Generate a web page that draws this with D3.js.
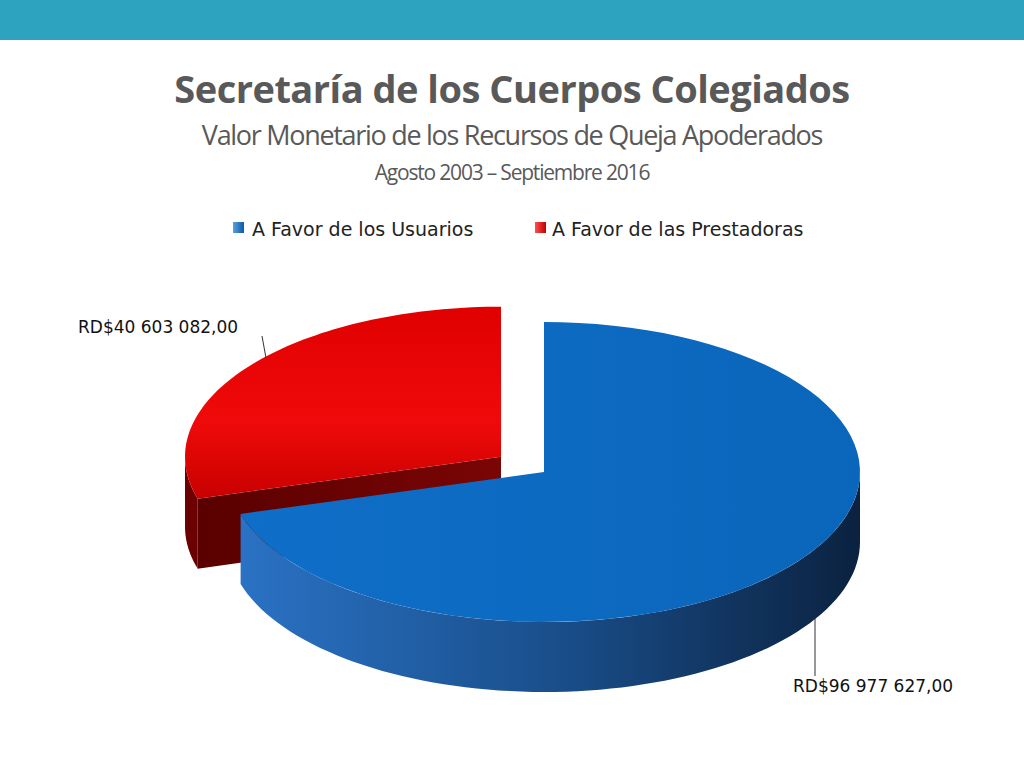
<!DOCTYPE html><html><head><meta charset="utf-8"><script src="https://d3js.org/d3.v7.min.js"></script>
<style>body{margin:0;background:#fff}</style></head><body><svg id="c" width="1024" height="768"></svg>
<script>
const categories=["A Favor de los Usuarios","A Favor de las Prestadoras"];
const values=[96977627,40603082];
const labels=["RD$96 977 627,00","RD$40 603 082,00"];
const svg=d3.select("#c");
svg.append("rect").attr("width",1024).attr("height",40).attr("fill","#2ea3c0");
const t=(txt,y,s,w,ls)=>svg.append("text").attr("x",512).attr("y",y).attr("text-anchor","middle").attr("font-family","Open Sans, sans-serif").attr("font-size",s).attr("font-weight",w).attr("letter-spacing",ls).attr("fill","#595959").text(txt);
t("Secretaría de los Cuerpos Colegiados",103,38,"bold",-0.5);
t("Valor Monetario de los Recursos de Queja Apoderados",145,27,"normal",-1.3);
t("Agosto 2003 – Septiembre 2016",180,21,"normal",-1.2);
const defs=svg.append("defs");
function grad(id,stops,x2=1,y2=0){const g=defs.append("linearGradient").attr("id",id).attr("x1",0).attr("y1",0).attr("x2",x2).attr("y2",y2);stops.forEach(([o,c])=>g.append("stop").attr("offset",o).attr("stop-color",c));}
grad("bw",[[0,"#2a72c4"],[0.5,"#1a4f8c"],[1,"#0b2240"]]);
grad("bt",[[0,"#0f6ec8"],[1,"#0a66ba"]]);
grad("rt",[[0,"#e00000"],[0.6,"#f00a0a"],[1,"#c80000"]],0,1);
grad("rf",[[0,"#5a0000"],[1,"#7a0505"]]);
grad("lb",[[0,"#5aa0e0"],[1,"#0a5aa8"]]);grad("lr",[[0,"#ff5050"],[1,"#c00000"]]);
// legend
const lg=[[233,252,"url(#lb)"],[535,552,"url(#lr)"]];
categories.forEach((c,i)=>{svg.append("rect").attr("x",lg[i][0]).attr("y",222).attr("width",11).attr("height",11).attr("fill",lg[i][2]);
svg.append("text").attr("x",lg[i][1]).attr("y",236).attr("font-family","DejaVu Sans").attr("font-size",19).attr("fill","#222").text(c);});
const pie=d3.pie().sort(null).value(d=>d)(values);
const cx=544,cy=472,rx=316,ry=150,dep=70;
const P=(a,ox,oy,dy=0)=>[ox+rx*Math.sin(a),oy-ry*Math.cos(a)+dy];
const line=d3.line();
function arcPts(a1,a2,ox,oy,dy){const n=80,p=[];for(let i=0;i<=n;i++)p.push(P(a1+(a2-a1)*i/n,ox,oy,dy));return p;}
function slice(d,ox,oy,top,wall,face,faceAngle){
 const g=svg.append("g");
 // radial face
 if(faceAngle!=null){const e=P(faceAngle,ox,oy);g.append("path").attr("d",line([[ox,oy],e,[e[0],e[1]+dep],[ox,oy+dep]])+"Z").attr("fill",face);}
 // outer wall (front half: 90..270 deg)
 const lo=Math.max(d.startAngle,Math.PI/2),hi=Math.min(d.endAngle,3*Math.PI/2);
 if(hi>lo){const up=arcPts(lo,hi,ox,oy,0),dn=arcPts(hi,lo,ox,oy,dep);g.append("path").attr("d",line(up.concat(dn))+"Z").attr("fill",wall);}
 g.append("path").attr("d",line([[ox,oy]].concat(arcPts(d.startAngle,d.endAngle,ox,oy,0)))+"Z").attr("fill",top);
}
// red exploded
const r=pie[1],mid=(r.startAngle+r.endAngle)/2,ex=0.17;
const rox=cx+rx*ex*Math.sin(mid),roy=cy-ry*ex*Math.cos(mid);
slice(r,rox,roy,"url(#rt)","#6a0000","url(#rf)",r.startAngle);
const b=pie[0];
{const e=P(0,cx,cy);svg.append("path").attr("d",line([[cx,cy],e,[e[0],e[1]+dep],[cx,cy+dep]])+"Z").attr("fill","#0a3d70");}
slice(b,cx,cy,"url(#bt)","url(#bw)",null,null);
// labels
svg.append("line").attr("x1",262).attr("y1",336).attr("x2",266).attr("y2",358).attr("stroke","#333");
svg.append("text").attr("x",78).attr("y",333).attr("font-family","DejaVu Sans").attr("font-size",17).attr("fill","#111").text(labels[1]);
svg.append("line").attr("x1",815).attr("y1",618).attr("x2",815).attr("y2",676).attr("stroke","#333");
svg.append("text").attr("x",793).attr("y",692).attr("font-family","DejaVu Sans").attr("font-size",17).attr("fill","#111").text(labels[0]);
</script></body></html>
